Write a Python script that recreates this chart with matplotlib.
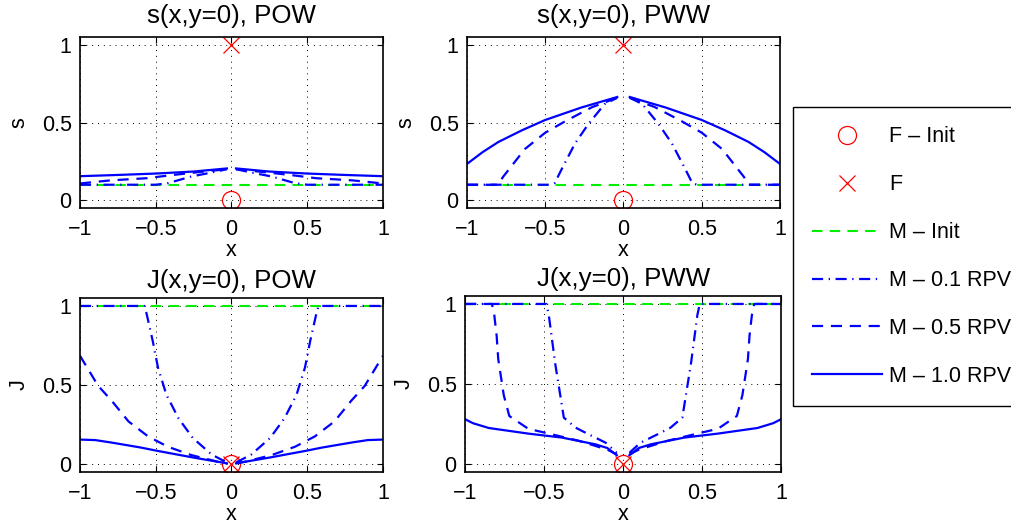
import numpy as np
import matplotlib
matplotlib.use("Agg")
import matplotlib.pyplot as plt

plt.rcParams['font.family'] = ['Liberation Sans', 'DejaVu Sans']
plt.rcParams['font.size'] = 15.5

# left halves (x < 0); every profile is symmetric about x = 0
s_pow_x10 = [-1.0, -0.75, -0.5, -0.25, -0.03]
s_pow_y10 = [0.155, 0.163, 0.172, 0.185, 0.205]
s_pow_x05 = [-1.0, -0.8, -0.56, -0.386, -0.18, -0.03]
s_pow_y05 = [0.108, 0.128, 0.142, 0.163, 0.185, 0.2]
s_pow_x01 = [-1.0, -0.5, -0.42, -0.265, -0.15, -0.03]
s_pow_y01 = [0.1, 0.1, 0.11, 0.153, 0.175, 0.2]

s_pww_x10 = [-1.0, -0.9, -0.8, -0.65, -0.5, -0.27, -0.04]
s_pww_y10 = [0.234, 0.31, 0.375, 0.45, 0.517, 0.597, 0.665]
s_pww_x05 = [-1.0, -0.8, -0.77, -0.63, -0.5, -0.37, -0.2, -0.04]
s_pww_y05 = [0.1, 0.1, 0.15, 0.33, 0.435, 0.51, 0.6, 0.66]
s_pww_x01 = [-1.0, -0.47, -0.44, -0.395, -0.31, -0.225, -0.12, -0.04]
s_pww_y01 = [0.1, 0.1, 0.11, 0.2, 0.365, 0.49, 0.62, 0.66]

j_pow_x10 = [-1.0, -0.9, -0.79, -0.6, -0.485, -0.243, -0.03]
j_pow_y10 = [0.155, 0.152, 0.136, 0.105, 0.083, 0.04, 0.005]
j_pow_x05 = [-1.0, -0.88, -0.79, -0.68, -0.55, -0.42, -0.265, -0.09, -0.03]
j_pow_y05 = [0.685, 0.495, 0.40, 0.27, 0.175, 0.11, 0.057, 0.015, 0.005]
j_pow_x01 = [-1.0, -0.575, -0.56, -0.52, -0.485, -0.43, -0.35, -0.255, -0.13, -0.03]
j_pow_y01 = [1.0, 1.0, 0.95, 0.78, 0.61, 0.44, 0.29, 0.165, 0.06, 0.01]

j_pww_x10 = [-1.0, -0.95, -0.85, -0.6, -0.386, -0.175, -0.1, -0.04]
j_pww_y10 = [0.28, 0.255, 0.225, 0.19, 0.165, 0.123, 0.1, 0.055]
j_pww_x05 = [-1.0, -0.83, -0.815, -0.8, -0.79, -0.755, -0.72, -0.6, -0.47, -0.28, -0.1, -0.04]
j_pww_y05 = [1.0, 1.0, 0.93, 0.8, 0.655, 0.43, 0.3, 0.22, 0.19, 0.145, 0.09, 0.06]
j_pww_x01 = [-1.0, -0.485, -0.47, -0.43, -0.4, -0.375, -0.3, -0.217, -0.11, -0.04]
j_pww_y01 = [1.0, 1.0, 0.93, 0.63, 0.445, 0.29, 0.227, 0.185, 0.133, 0.07]

s_init = 0.1
j_init = 1.0
# fracture point at the origin: (initial, final) values
s_frac = (0.0, 1.0)
j_frac = (0.0, 0.0)

labels = ['F \u2013 Init', 'F', 'M \u2013 Init', 'M \u2013 0.1 RPV', 'M \u2013 0.5 RPV', 'M \u2013 1.0 RPV']


def mirror(xs, ys):
    xs = np.asarray(xs)
    ys = np.asarray(ys)
    x = np.concatenate([xs, [np.nan], -xs[::-1]])
    y = np.concatenate([ys, [np.nan], ys[::-1]])
    return x, y


DASH = (0, (5, 3.5))
DASHDOT = (0, (5, 2.5, 0.6, 2.5))

fig = plt.figure(figsize=(10.11, 5.24), dpi=100)
positions = [
    [0.0791, 0.603, 0.2997, 0.326],
    [0.4619, 0.603, 0.3096, 0.326],
    [0.0791, 0.0992, 0.2997, 0.332],
    [0.4600, 0.0992, 0.3126, 0.336],
]
panels = [
    ('s(x,y=0), POW', 's', s_frac, s_init, (s_pow_x01, s_pow_y01), (s_pow_x05, s_pow_y05), (s_pow_x10, s_pow_y10), 10),
    ('s(x,y=0), PWW', 's', s_frac, s_init, (s_pww_x01, s_pww_y01), (s_pww_x05, s_pww_y05), (s_pww_x10, s_pww_y10), 10),
    ('J(x,y=0), POW', 'J', j_frac, j_init, (j_pow_x01, j_pow_y01), (j_pow_x05, j_pow_y05), (j_pow_x10, j_pow_y10), 7),
    ('J(x,y=0), PWW', 'J', j_frac, j_init, (j_pww_x01, j_pww_y01), (j_pww_x05, j_pww_y05), (j_pww_x10, j_pww_y10), 7),
]

handles = None
for pos, (title, ylab, frac, init, r01, r05, r10, tpad) in zip(positions, panels):
    ax = fig.add_axes(pos)
    h1, = ax.plot([0], [frac[0]], 'o', color='red', mfc='none', ms=13, mew=0.9)
    h2, = ax.plot([0], [frac[1]], 'x', color='red', ms=12, mew=0.9)
    h3, = ax.plot([-1, 1], [init, init], color='#00ee00', lw=1.5, ls=DASH)
    x, y = mirror(*r01)
    h4, = ax.plot(x, y, color='blue', lw=1.6, ls=DASHDOT)
    x, y = mirror(*r05)
    h5, = ax.plot(x, y, color='blue', lw=1.6, ls=DASH)
    x, y = mirror(*r10)
    h6, = ax.plot(x, y, color='blue', lw=1.6, ls='-')
    handles = [h1, h2, h3, h4, h5, h6]

    ax.set_xlim(-1, 1)
    ax.set_ylim(-0.05, 1.05)
    ax.set_xticks([-1, -0.5, 0, 0.5, 1])
    ax.set_xticklabels(['\u22121', '\u22120.5', '0', '0.5', '1'])
    ax.set_yticks([0, 0.5, 1])
    ax.set_yticklabels(['0', '0.5', '1'])
    ax.tick_params(direction='in', top=True, right=True, length=4, width=0.8, pad=6)
    ax.tick_params(axis='x', pad=8)
    ax.grid(True, color='black', ls=(0, (1, 5)), lw=0.7)
    for sp in ax.spines.values():
        sp.set_linewidth(1.2)
    ax.set_title(title, pad=tpad)
    ax.set_xlabel('x', labelpad=0)
    ax.set_ylabel(ylab, labelpad=9)

leg = fig.legend(handles, labels, loc='upper left', bbox_to_anchor=(793 / 1011, 1 - 107 / 524),
                 fancybox=False, edgecolor='black', framealpha=1,
                 handlelength=3.25, handletextpad=0.33, labelspacing=1.25, borderpad=0.9,
                 borderaxespad=0)
leg.get_frame().set_linewidth(1.0)

fig.savefig('out.png', dpi=100)
